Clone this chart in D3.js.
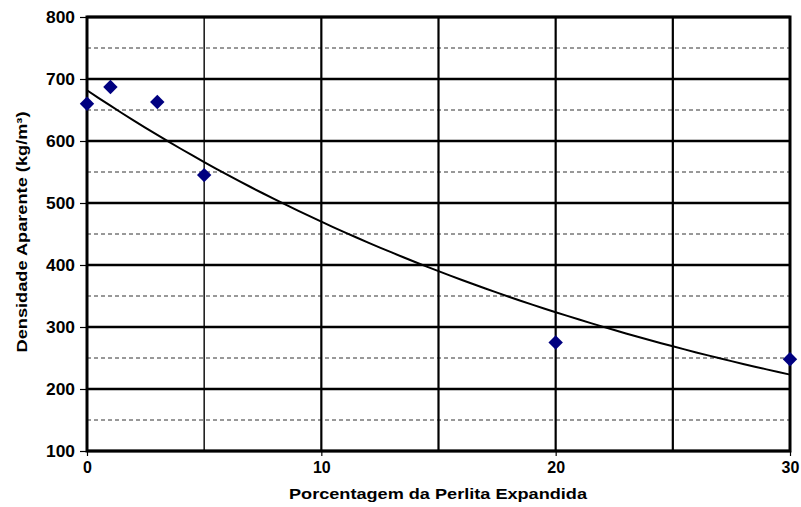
<!DOCTYPE html>
<html>
<head>
<meta charset="utf-8">
<script src="https://cdn.jsdelivr.net/npm/d3@7"></script>
<style>
  body { margin: 0; background: #fff; }
  svg { display: block; font-family: "Liberation Sans", Arial, sans-serif; }
</style>
</head>
<body>
<div id="chart"></div>
<script>
(function () {

const [WIDTH, HEIGHT] = [801, 507];

// measured points
const perlita = [0, 1, 3, 5, 20, 30];
const densidade = [660, 687, 663, 545, 275, 248];

const xTicks = [0, 10, 20, 30];
const xGrid = [5, 10, 15, 20, 25];
const yTicks = [100, 200, 300, 400, 500, 600, 700, 800];
const yMinor = [150, 250, 350, 450, 550, 650, 750];

const margin = { left: 87, right: 11, top: 17, bottom: 56 };

const svg = d3.select('#chart').append('svg')
    .attr('width', WIDTH)
    .attr('height', HEIGHT);

const x = d3.scaleLinear()
    .domain([0, 30])
    .range([margin.left, WIDTH - margin.right]);

const y = d3.scaleLinear()
    .domain([100, 800])
    .range([HEIGHT - margin.bottom, margin.top]);

// exponential trendline (least squares on ln y), as the spreadsheet does
function expFit(xs, ys) {
    const n = xs.length;
    const ly = ys.map((v) => Math.log(v));
    const mx = d3.mean(xs), my = d3.mean(ly);
    let sxx = 0, sxy = 0;
    for (let i = 0; i < n; i++) {
        sxx += (xs[i] - mx) * (xs[i] - mx);
        sxy += (xs[i] - mx) * (ly[i] - my);
    }
    const b = sxy / sxx;
    const a = Math.exp(my - b * mx);
    return (t) => a * Math.exp(b * t);
}

// minor dashed gridlines
svg.append('g')
    .selectAll('line')
    .data(yMinor)
    .join('line')
    .attr('x1', x(0)).attr('x2', x(30))
    .attr('y1', (d) => y(d)).attr('y2', (d) => y(d))
    .attr('stroke', '#333')
    .attr('stroke-width', 1)
    .attr('stroke-dasharray', '4,3');

// vertical gridlines
svg.append('g')
    .selectAll('line')
    .data(xGrid)
    .join('line')
    .attr('x1', (d) => x(d)).attr('x2', (d) => x(d))
    .attr('y1', y(100)).attr('y2', y(800))
    .attr('stroke', '#000')
    .attr('stroke-width', (d) => d === 5 ? 1.4 : 2.2);

// major horizontal gridlines
svg.append('g')
    .selectAll('line')
    .data(yTicks)
    .join('line')
    .attr('x1', x(0)).attr('x2', x(30))
    .attr('y1', (d) => y(d)).attr('y2', (d) => y(d))
    .attr('stroke', '#000')
    .attr('stroke-width', 2.4);

// frame
svg.append('rect')
    .attr('x', x(0)).attr('y', y(800))
    .attr('width', x(30) - x(0))
    .attr('height', y(100) - y(800))
    .attr('fill', 'none')
    .attr('stroke', '#000')
    .attr('stroke-width', 3);

// axes
const yAxis = svg.append('g')
    .attr('transform', `translate(${x(0)},0)`)
    .call(d3.axisLeft(y).tickValues(yTicks).tickSize(7).tickPadding(5))
    .call((g) => g.select('.domain').remove());

const xAxis = svg.append('g')
    .attr('transform', `translate(0,${y(100)})`)
    .call(d3.axisBottom(x).tickValues(xTicks).tickSize(5).tickPadding(6))
    .call((g) => g.select('.domain').remove());

[yAxis, xAxis].forEach((g) => {
    g.selectAll('.tick line').attr('stroke', '#000').attr('stroke-width', 1.2);
    g.selectAll('.tick text')
        .attr('fill', '#000')
        .attr('font-size', 16)
        .attr('font-weight', 'bold')
        .attr('font-family', '"Liberation Sans", Arial, sans-serif');
});
yAxis.selectAll('.tick text').attr('textLength', 29).attr('lengthAdjust', 'spacingAndGlyphs');

// trendline
const fit = expFit(perlita, densidade);
const line = d3.line()
    .x((d) => x(d))
    .y((d) => y(fit(d)));

svg.append('path')
    .datum(d3.range(0, 30.01, 0.5))
    .attr('d', line)
    .attr('fill', 'none')
    .attr('stroke', '#000')
    .attr('stroke-width', 2);

// points
svg.append('g')
    .selectAll('path')
    .data(perlita.map((p, i) => [p, densidade[i]]))
    .join('path')
    .attr('d', d3.symbol(d3.symbolSquare, 104))
    .attr('transform', (d) => `translate(${x(d[0])},${y(d[1])}) rotate(45)`)
    .attr('fill', '#000080');

// axis titles
svg.append('text')
    .attr('x', 438)
    .attr('y', 499)
    .attr('text-anchor', 'middle')
    .attr('font-size', 15)
    .attr('font-weight', 'bold')
    .attr('textLength', 298)
    .attr('lengthAdjust', 'spacingAndGlyphs')
    .text('Porcentagem da Perlita Expandida');

svg.append('text')
    .attr('transform', `translate(27,${232}) rotate(-90)`)
    .attr('text-anchor', 'middle')
    .attr('font-size', 15)
    .attr('font-weight', 'bold')
    .attr('textLength', 241)
    .attr('lengthAdjust', 'spacingAndGlyphs')
    .text('Densidade Aparente (kg/m³)');

})();
</script>
</body>
</html>
